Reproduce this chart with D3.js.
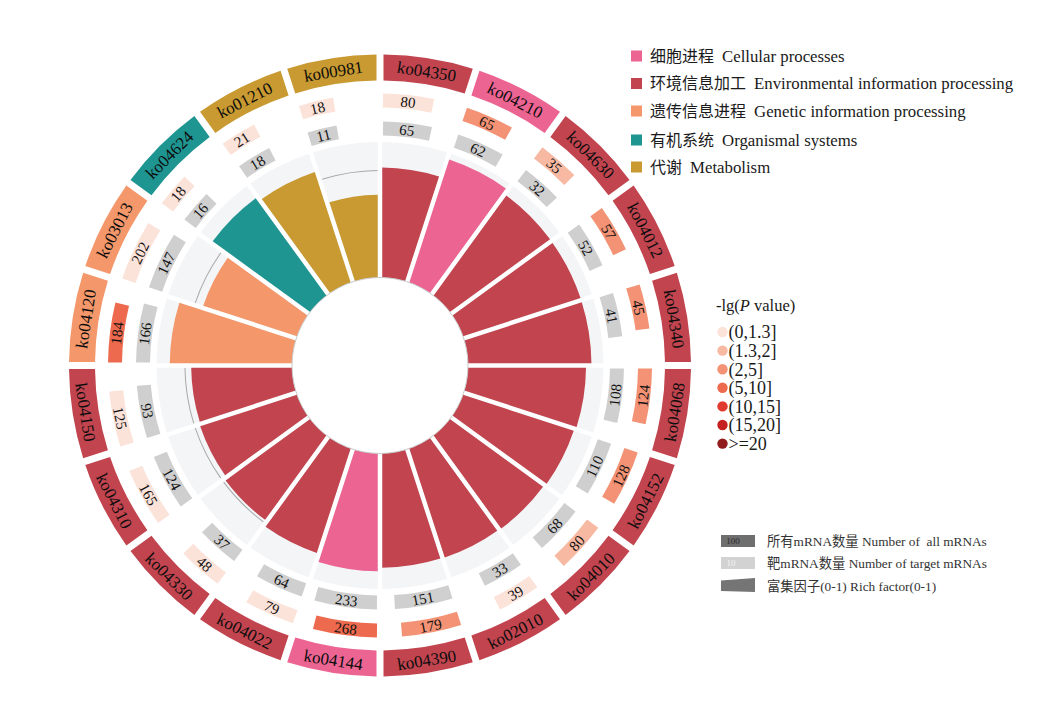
<!DOCTYPE html>
<html>
<head>
<meta charset="utf-8">
<script src="https://cdn.jsdelivr.net/npm/d3@7"></script>
<style>
  body { margin: 0; background: #fff; }
  text { font-family: "Liberation Serif", "Noto Sans CJK SC", serif; }
</style>
</head>
<body>
<div id="chart"></div>
<script>
// pathways, clockwise from 12 o'clock
const pathways = ["ko04350","ko04210","ko04630","ko04012","ko04340","ko04068","ko04152","ko04010","ko02010","ko04390",
                  "ko04144","ko04022","ko04330","ko04310","ko04150","ko04120","ko03013","ko04624","ko01210","ko00981"];
const classOf  = [1,0,1,1,1,1,1,1,1,1, 0,1,1,1,1,2,2,3,4,4];
const allCounts    = [80,65,35,57,45,124,128,80,39,179, 268,79,48,165,125,184,202,18,21,18];
const targetCounts = [65,62,32,52,41,108,110,68,33,151, 233,64,37,124,93,166,147,16,18,11];
const pLevel       = [0,2,1,2,2,2,2,1,0,2, 3,0,0,0,0,3,0,0,0,0];

const classNames = ["细胞进程", "环境信息加工", "遗传信息进程", "有机系统", "代谢"];
const classNamesEn = ["Cellular processes", "Environmental information processing", "Genetic information processing", "Organismal systems", "Metabolism"];
const classColors = ["#ec6492", "#c1444f", "#f4976a", "#1e9591", "#c89a31"];

const pBins = ["(0,1.3]", "(1.3,2]", "(2,5]", "(5,10]", "(10,15]", "(15,20]", ">=20"];
const pColors = ["#fce3da", "#f8b9a2", "#f39274", "#ee6a4e", "#e03a2e", "#c3201f", "#921b1c"];

const width = 1049, height = 713;
const cx = 380, cy = 365.5;
const r0 = 88, rMax = 223.5, refRF = 0.79;

const data = pathways.map((id, i) => ({
  id, cls: classOf[i], all: allCounts[i], target: targetCounts[i], p: pLevel[i],
  rf: targetCounts[i] / allCounts[i]
}));

const svg = d3.select("#chart").append("svg")
  .attr("width", width).attr("height", height);
const g = svg.append("g").attr("transform", `translate(${cx},${cy})`);

const angle = d3.scaleBand().domain(pathways).range([0, 2 * Math.PI]);
const rScale = d3.scaleLinear().domain([0, 1]).range([r0, rMax]);
const lenScale = d3.scaleLog().domain([1, 300]).range([3.4, 64.2]); // arc length in px

const deg = a => a * 180 / Math.PI;
function rot(a) {
  let d = deg(a);
  return (d > 90 && d < 270) ? d + 180 : d;
}

// background sectors
g.selectAll("path.bg").data(data).enter().append("path")
  .attr("class", "bg")
  .attr("fill", "#f4f5f7")
  .attr("d", d3.arc().innerRadius(r0).outerRadius(rMax)
    .startAngle(d => angle(d.id)).endAngle(d => angle(d.id) + angle.bandwidth())
    .padRadius(100).padAngle(0.045));

// reference ring
g.selectAll("path.ref").data(data).enter().append("path")
  .attr("class", "ref")
  .attr("fill", "#a8a8a8")
  .attr("d", d3.arc().innerRadius(rScale(refRF) - 0.5).outerRadius(rScale(refRF) + 0.5)
    .startAngle(d => angle(d.id) + 2.5 / rScale(refRF)).endAngle(d => angle(d.id) + angle.bandwidth() - 2.5 / rScale(refRF)));

// rich factor bars
g.selectAll("path.rf").data(data).enter().append("path")
  .attr("class", "rf")
  .attr("fill", d => classColors[d.cls])
  .attr("d", d3.arc().innerRadius(r0).outerRadius(d => rScale(d.rf))
    .startAngle(d => angle(d.id)).endAngle(d => angle(d.id) + angle.bandwidth())
    .padRadius(100).padAngle(0.045));

// inner white circle
g.append("circle").attr("r", r0).attr("fill", "#fff").attr("stroke", "#c8c8c8").attr("stroke-width", 1);

// count bars (length on log scale, starting at sector start)
function countRing(cls, rin, rout, valueOf, colorOf) {
  const rm = (rin + rout) / 2;
  const start = d => angle(d.id) + 3 / rm;
  const end = d => start(d) + lenScale(valueOf(d)) / rm;
  const sel = g.selectAll("g." + cls).data(data).enter().append("g").attr("class", cls);
  sel.append("path")
    .attr("fill", colorOf)
    .attr("d", d3.arc().innerRadius(rin).outerRadius(rout).startAngle(start).endAngle(end));
  sel.append("text")
    .attr("transform", d => {
      const a = (start(d) + end(d)) / 2;
      return `translate(${rm * Math.sin(a)},${-rm * Math.cos(a)}) rotate(${rot(a)})`;
    })
    .attr("text-anchor", "middle")
    .attr("dy", "0.35em")
    .attr("font-size", 15)
    .attr("fill", "#111")
    .text(valueOf);
}
countRing("all", 258, 272, d => d.all, d => pColors[d.p]);
countRing("target", 230, 244, d => d.target, () => "#cfcfcf");

// outer pathway label ring
const lab = g.selectAll("g.lab").data(data).enter().append("g").attr("class", "lab");
lab.append("path")
  .attr("fill", d => classColors[d.cls])
  .attr("d", d3.arc().innerRadius(285).outerRadius(311)
    .startAngle(d => angle(d.id)).endAngle(d => angle(d.id) + angle.bandwidth())
    .padRadius(100).padAngle(0.07));
lab.append("text")
  .attr("transform", d => {
    const a = angle(d.id) + angle.bandwidth() / 2, r = 298;
    return `translate(${r * Math.sin(a)},${-r * Math.cos(a)}) rotate(${rot(a)})`;
  })
  .attr("text-anchor", "middle")
  .attr("dy", "0.35em")
  .attr("font-size", 17)
  .attr("fill", "#0d0d0d")
  .text(d => d.id);

// class legend
const leg1 = svg.append("g").attr("transform", "translate(631,56)");
classNames.forEach((n, i) => {
  const y = [0, 27.5, 55, 84, 111][i];
  leg1.append("rect").attr("x", 0).attr("y", y - 5.5).attr("width", 11).attr("height", 11).attr("fill", classColors[i]);
  const t = leg1.append("text").attr("x", 19).attr("y", y).attr("dy", "0.35em").attr("font-size", 16).attr("fill", "#1a1a1a");
  t.append("tspan").text(n);
  t.append("tspan").attr("dx", 8).attr("font-size", 16.8).text(classNamesEn[i]);
});

// p value legend
const leg2 = svg.append("g").attr("transform", "translate(716,305)");
const ttl = leg2.append("text").attr("x", 0).attr("y", 0).attr("dy", "0.35em").attr("font-size", 16.5).attr("fill", "#1a1a1a");
ttl.append("tspan").text("-lg(");
ttl.append("tspan").attr("font-style", "italic").text("P");
ttl.append("tspan").text(" value)");
pBins.forEach((b, i) => {
  const y = 27 + i * 18.6;
  leg2.append("circle").attr("cx", 6.5).attr("cy", y).attr("r", 5.2).attr("fill", pColors[i]);
  leg2.append("text").attr("x", 12.5).attr("y", y).attr("dy", "0.36em").attr("font-size", 18).attr("fill", "#1a1a1a").text(b);
});

// bar legend
const leg3 = svg.append("g").attr("transform", "translate(721,535)");
leg3.append("rect").attr("width", 34).attr("height", 12).attr("fill", "#6e6e6e");
leg3.append("text").attr("x", 12).attr("y", 6).attr("dy", "0.35em").attr("text-anchor", "middle").attr("font-size", 9).attr("fill", "#2a2a2a").text("100");
leg3.append("rect").attr("y", 22).attr("width", 34).attr("height", 12).attr("fill", "#d2d2d2");
leg3.append("text").attr("x", 10).attr("y", 28).attr("dy", "0.35em").attr("text-anchor", "middle").attr("font-size", 9).attr("fill", "#f4f4f4").text("10");
const p = d3.path();
p.moveTo(0, 45.5); p.lineTo(34, 43); p.lineTo(34, 57); p.lineTo(0, 56); p.closePath();
leg3.append("path").attr("d", p.toString()).attr("fill", "#757575");
const legTexts = ["所有mRNA数量 Number of  all mRNAs", "靶mRNA数量 Number of target mRNAs", "富集因子(0-1) Rich factor(0-1)"];
legTexts.forEach((t, i) => {
  leg3.append("text").attr("x", 46).attr("y", 6 + i * 22.5).attr("dy", "0.35em")
    .attr("font-size", 13.3).attr("fill", "#333").style("white-space", "pre").text(t);
});
</script>
</body>
</html>
